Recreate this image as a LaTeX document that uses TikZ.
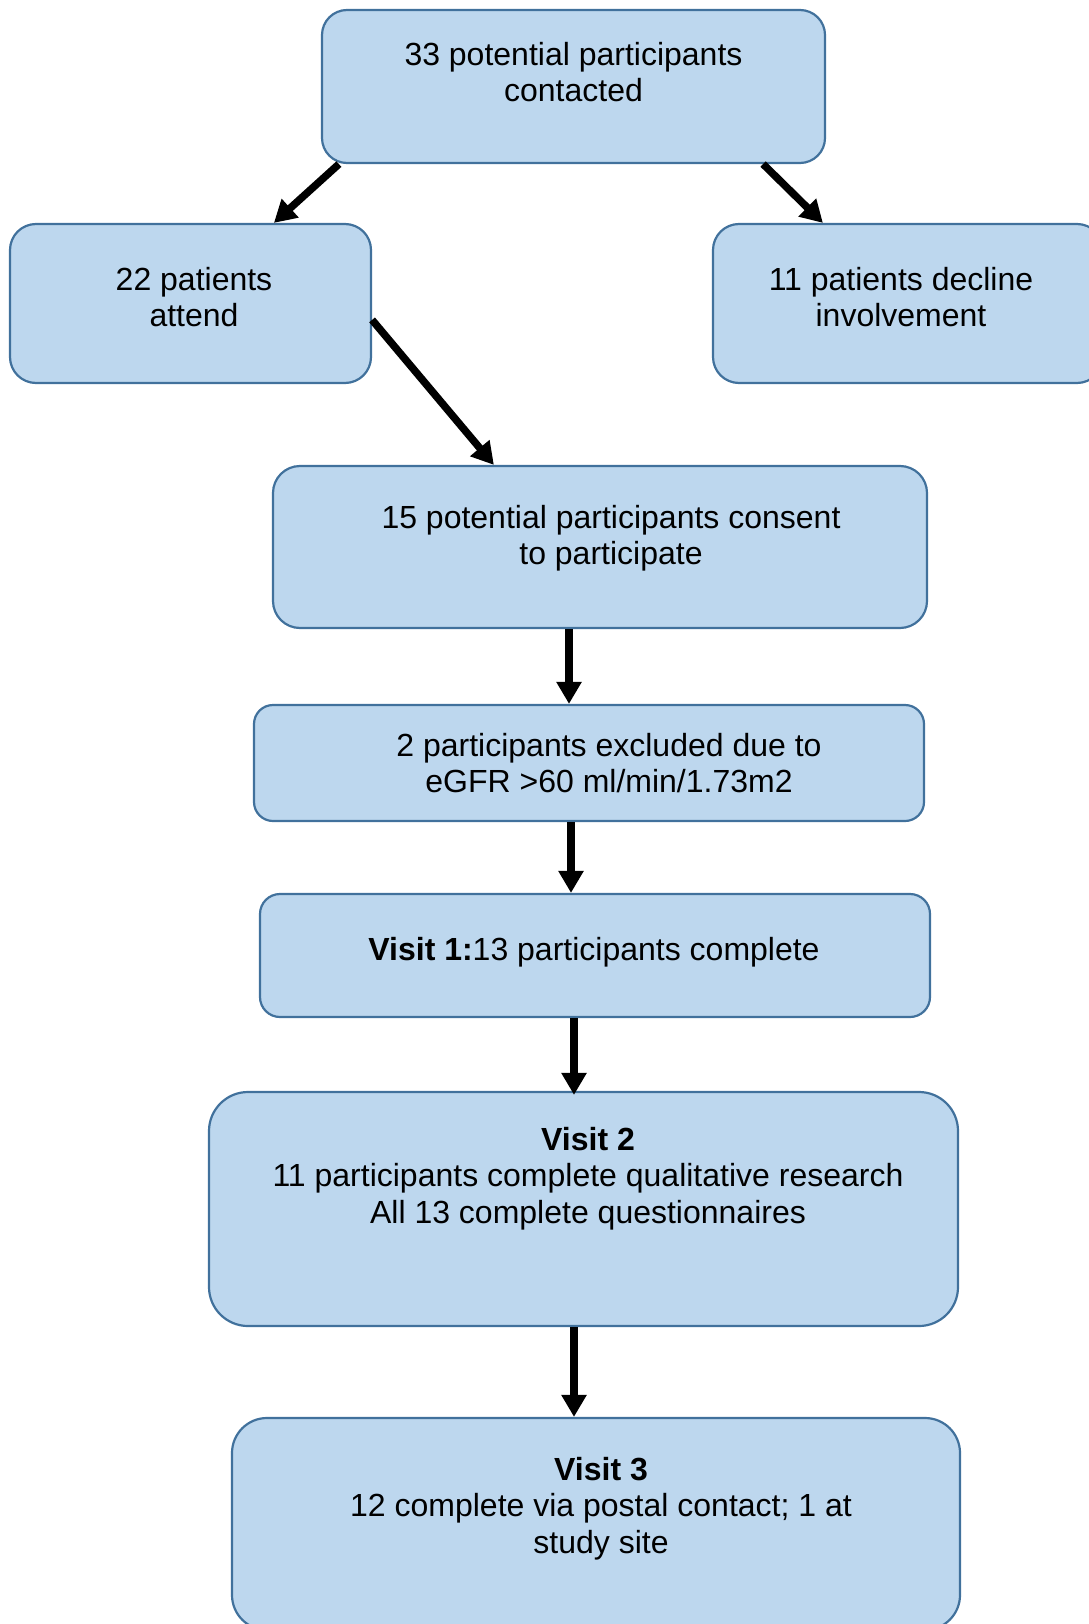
\documentclass[tikz,border=0pt]{standalone}
\usepackage{fontspec}
\setsansfont{Liberation Sans}
\usetikzlibrary{arrows.meta,positioning}
\definecolor{BoxFill}{HTML}{BDD7EE}
\definecolor{BoxEdge}{HTML}{41719C}

\begin{document}
\begin{tikzpicture}[
    x=1pt, y=-1pt,
    font=\sffamily,
    flowbox/.style={draw=BoxEdge, fill=BoxFill, line width=2.2pt, rounded corners=#1, inner sep=0pt},
    boxtext/.style={font=\sffamily\fontsize{32}{36.5}\selectfont, align=center, inner sep=0pt, anchor=north},
    flowarrow/.style={line width=7.5pt, -{Triangle[length=22pt,width=24pt]}}
]
  \useasboundingbox (0,0) rectangle (1088,1624);

  % -------------------------------------------------------------
  % RECRUITMENT
  % -------------------------------------------------------------
  \node[flowbox=25pt, minimum width=503pt, minimum height=153pt] (contact) at (573.5, 86.5) {};
  \node[boxtext] at (contact.north) [yshift=-33pt] {33 potential participants\\contacted};

  \node[flowbox=26pt, minimum width=361pt, minimum height=159pt] (attend) at (190.5, 303.5) {};
  \node[boxtext] at (attend.north) [xshift=3.5pt, yshift=-44pt] {22 patients\\attend};

  \node[flowbox=26pt, minimum width=390pt, minimum height=159pt] (decline) at (908, 303.5) {};
  \node[boxtext] at (decline.north) [xshift=-7pt, yshift=-44pt] {11 patients decline\\involvement};

  \node[flowbox=27pt, minimum width=654pt, minimum height=162pt] (consent) at (600, 547) {};
  \node[boxtext] at (consent.north) [xshift=11pt, yshift=-40pt] {15 potential participants consent\\to participate};

  \node[flowbox=19pt, minimum width=670pt, minimum height=116pt] (excluded) at (589, 763) {};
  \node[boxtext] at (excluded.north) [xshift=20pt, yshift=-29pt] {2 participants excluded due to\\eGFR >60 ml/min/1.73m2};

  % -------------------------------------------------------------
  % VISITS
  % -------------------------------------------------------------
  \node[flowbox=20pt, minimum width=670pt, minimum height=123pt] (visitone) at (595, 955.5) {};
  \node[boxtext] at (visitone.north) [xshift=-1pt, yshift=-44pt] {\textbf{Visit 1:}13 participants complete};

  \node[flowbox=39pt, minimum width=749pt, minimum height=234pt] (visittwo) at (583.5, 1209) {};
  \node[boxtext] at (visittwo.north) [xshift=4.5pt, yshift=-36pt] {\textbf{Visit 2}\\11 participants complete qualitative research\\All 13 complete questionnaires};

  \node[flowbox=35pt, minimum width=728pt, minimum height=212pt] (visitthree) at (596, 1524) {};
  \node[boxtext] at (visitthree.north) [xshift=5pt, yshift=-40pt] {\textbf{Visit 3}\\12 complete via postal contact; 1 at\\study site};

  % -------------------------------------------------------------
  % ARROWS
  % -------------------------------------------------------------
  \draw[flowarrow] ([xshift=18pt]contact.south west) -- ([xshift=265pt]attend.north west);
  \draw[flowarrow] ([xshift=-63pt]contact.south east) -- ([xshift=111pt]decline.north west);
  \draw[flowarrow] ([yshift=-97pt]attend.north east) -- ([xshift=222pt]consent.north west);
  \draw[flowarrow] ([xshift=-31pt]consent.south) -- ([xshift=-20pt]excluded.north);
  \draw[flowarrow] ([xshift=-18pt]excluded.south) -- ([xshift=-24pt]visitone.north);
  \draw[flowarrow] ([xshift=-21pt]visitone.south) -- ([xshift=-9.5pt,yshift=-4pt]visittwo.north);
  \draw[flowarrow] ([xshift=-9.5pt]visittwo.south) -- ([xshift=-22pt]visitthree.north);

\end{tikzpicture}
\end{document}
